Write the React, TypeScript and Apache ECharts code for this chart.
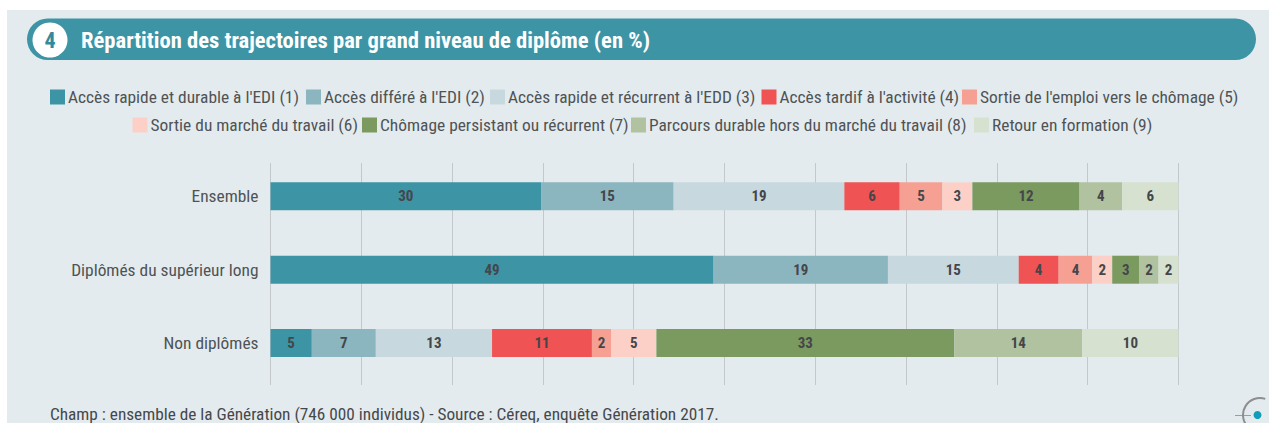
import React, { useEffect, useRef } from "react";
import * as echarts from "echarts";

const titleText = "Répartition des trajectoires par grand niveau de diplôme (en %)";
const footerText = "Champ : ensemble de la Génération (746 000 individus) - Source : Céreq, enquête Génération 2017.";
const categories = ["Ensemble", "Diplômés du supérieur long", "Non diplômés"];
const seriesNames = [
  "Accès rapide et durable à l'EDI (1)",
  "Accès différé à l'EDI (2)",
  "Accès rapide et récurrent à l'EDD (3)",
  "Accès tardif à l'activité (4)",
  "Sortie de l'emploi vers le chômage (5)",
  "Sortie du marché du travail (6)",
  "Chômage persistant ou récurrent (7)",
  "Parcours durable hors du marché du travail (8)",
  "Retour en formation (9)",
];
const colors = ["#3c94a5", "#8bb5bf", "#c7d9df", "#ef5353", "#f6a093", "#fcd0c7", "#7a9a60", "#b0c2a0", "#d6e1d0"];

const acces1 = [29.8, 48.8, 4.55];
const acces2 = [14.6, 19.2, 7.05];
const acces3 = [18.8, 14.4, 12.8];
const tardif4 = [6.1, 4.4, 11.0];
const sortie5 = [4.7, 3.7, 2.1];
const sortie6 = [3.3, 2.2, 5.0];
const chomage7 = [11.8, 3.0, 32.8];
const parcours8 = [4.7, 2.1, 14.1];
const retour9 = [6.2, 2.2, 10.6];
const values = [acces1, acces2, acces3, tardif4, sortie5, sortie6, chomage7, parcours8, retour9];

const labels1 = [30, 49, 5];
const labels2 = [15, 19, 7];
const labels3 = [19, 15, 13];
const labels4 = [6, 4, 11];
const labels5 = [5, 4, 2];
const labels6 = [3, 2, 5];
const labels7 = [12, 3, 33];
const labels8 = [4, 2, 14];
const labels9 = [6, 2, 10];
const shownLabels = [labels1, labels2, labels3, labels4, labels5, labels6, labels7, labels8, labels9];

const legendLeft = [50, 306, 490, 761.5, 962, 132.5, 362, 631, 974];
const legendTop = [88.5, 88.5, 88.5, 88.5, 88.5, 116.5, 116.5, 116.5, 116.5];

const FONT = "'Roboto Condensed', 'Open Sans Condensed', sans-serif";
const TEXT = "#4f5356";

export default function App() {
  const ref = useRef<HTMLDivElement>(null);
  useEffect(() => {
    const chart = echarts.init(ref.current!, undefined, { renderer: "svg" });
    chart.setOption({
      animation: false,
      backgroundColor: "#ffffff",
      textStyle: { fontFamily: FONT },
      graphic: [
        { type: "rect", z: -10, silent: true, shape: { x: 7, y: 10, width: 1262, height: 413 }, style: { fill: "#e4ebee" } },
        { type: "rect", z: -9, silent: true, shape: { x: 27, y: 18.5, width: 1229, height: 41.5, r: 20.7 }, style: { fill: "#3c94a5" } },
        { type: "circle", z: -8, silent: true, shape: { cx: 50, cy: 40, r: 17.5 }, style: { fill: "#ffffff" } },
        { type: "text", z: -7, silent: true, x: 50, y: 40, style: { text: "4", fill: "#2f8b9d", font: `bold 22px ${FONT}`, align: "center", verticalAlign: "middle" } },
        { type: "text", z: -7, silent: true, x: 81, y: 40, style: { text: titleText, fill: "#ffffff", font: `bold 22.6px ${FONT}`, align: "left", verticalAlign: "middle" } },
        { type: "text", z: -7, silent: true, x: 50, y: 413.5, style: { text: footerText, fill: "#44484b", font: `17.25px ${FONT}`, align: "left", verticalAlign: "middle" } },
        { type: "line", z: -7, silent: true, shape: { x1: 1235, y1: 415.5, x2: 1251, y2: 415.5 }, style: { stroke: "#9a9c9e", lineWidth: 1 } },
        { type: "arc", z: -7, silent: true, shape: { cx: 1260, cy: 415, r: 17, startAngle: Math.PI * 0.75, endAngle: Math.PI * 1.6, clockwise: true }, style: { stroke: "#8c8e90", lineWidth: 2, fill: "none" } },
        { type: "circle", z: -6, silent: true, shape: { cx: 1257.5, cy: 415, r: 4 }, style: { fill: "#0f9db8" } },
      ],
      legend: seriesNames.map((name, i) => ({
        orient: "horizontal",
        itemWidth: 15,
        itemHeight: 15,
        icon: "rect",
        selectedMode: false,
        padding: 0,
        left: legendLeft[i],
        top: legendTop[i],
        textStyle: { fontFamily: FONT, fontSize: 17.4, color: TEXT, padding: [0, 0, 0, -2] },
        data: [name],
      })),
      grid: [
        { left: 270.5, width: 908, top: 159.7, height: 220 },
        { left: 270.5, width: 908, top: 163, height: 222 },
      ],
      xAxis: [
        { type: "value", gridIndex: 0, min: 0, max: 100, show: false },
        {
          type: "value", gridIndex: 1, min: 0, max: 100, interval: 10,
          axisLabel: { show: false }, axisLine: { show: false }, axisTick: { show: false },
          splitLine: { show: true, lineStyle: { color: "#c3c8cb", width: 1 } },
        },
      ],
      yAxis: [
        {
          type: "category", gridIndex: 0, inverse: true, data: categories,
          axisLine: { show: false }, axisTick: { show: false }, splitLine: { show: false },
          axisLabel: { fontFamily: FONT, fontSize: 17.4, color: TEXT, margin: 12 },
        },
        { type: "category", gridIndex: 1, data: [""], show: false },
      ],
      series: seriesNames.map((name, i) => ({
        name,
        type: "bar",
        stack: "total",
        xAxisIndex: 0,
        yAxisIndex: 0,
        barWidth: 28,
        itemStyle: { color: colors[i] },
        label: {
          show: true,
          position: "inside",
          fontFamily: FONT,
          fontSize: 15,
          fontWeight: "bold",
          color: "#44464a",
          formatter: (p: any) => String(shownLabels[i][p.dataIndex]),
        },
        data: values[i],
      })),
    });
    return () => chart.dispose();
  }, []);
  return <div ref={ref} style={{ position: "absolute", left: 0, top: 0, width: 1269, height: 423 }} />;
}
